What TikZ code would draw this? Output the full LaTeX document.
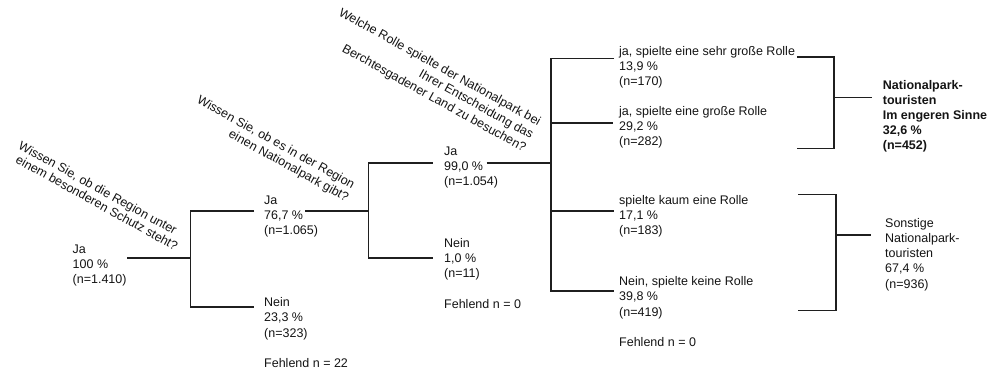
\documentclass[tikz,border=0pt]{standalone}
\usepackage{fontspec}
\setmainfont{Liberation Sans}
\begin{document}
\begin{tikzpicture}[x=1pt,y=-1pt,
  % multi-line nodes: the base anchor sits on the baseline of the last line
  txt/.style={inner sep=0pt, anchor=base west, align=left, text=black!92,
    font=\fontsize{12.5}{15.2}\selectfont},
  bold/.style={txt, font=\fontsize{12.5}{15}\selectfont\bfseries},
  quest/.style={inner sep=0pt, anchor=base east, rotate=-29, text=black!92,
    font=\fontsize{12.5}{15}\selectfont},
  tree/.style={draw=black!88, line width=1.3pt},
  stem/.style={draw=black!88, line width=2pt}]
\useasboundingbox (0,0) rectangle (998,373);

% --- question labels (rotated) ---
\node[quest] (q1a) at (174,235) {Wissen Sie, ob die Region unter};
\node[quest] (q1b) at (175,251) {einem besonderen Schutz steht?};
\node[quest] (q2a) at (352,189) {Wissen Sie, ob es in der Region};
\node[quest] (q2b) at (346,202) {einen Nationalpark gibt?};
\node[quest] (q3a) at (538,126) {Welche Rolle spielte der Nationalpark bei};
\node[quest] (q3b) at (530.7,139.1) {Ihrer Entscheidung das};
\node[quest] (q3c) at (523.4,152.2) {Berchtesgadener Land zu besuchen?};

% --- answer nodes (positioned by the baseline of their last line) ---
\node[txt] (a0) at (72.5,283.4) {Ja\\100 \%\\(n=1.410)};
\node[txt] (a1) at (264,234.4) {Ja\\76,7 \%\\(n=1.065)};
\node[txt] (n1) at (264,367.5) {Nein\\23,3 \%\\(n=323)\\[15.2pt]Fehlend n = 22};
\node[txt] (a2) at (444,185.4) {Ja\\99,0 \%\\(n=1.054)};
\node[txt] (n2) at (444,308.1) {Nein\\1,0 \%\\(n=11)\\[15.2pt]Fehlend n = 0};
\node[txt] (b1) at (619,85.4) {ja, spielte eine sehr große Rolle\\13,9 \%\\(n=170)};
\node[txt] (b2) at (619,145.4) {ja, spielte eine große Rolle\\29,2 \%\\(n=282)};
\node[txt] (b3) at (619,234.4) {spielte kaum eine Rolle\\17,1 \%\\(n=183)};
\node[txt] (b4) at (619,346.5) {Nein, spielte keine Rolle\\39,8 \%\\(n=419)\\[15.2pt]Fehlend n = 0};
\node[bold] (g1) at (882.7,149) {Nationalpark-\\touristen\\Im engeren Sinne\\32,6 \%\\(n=452)};
\node[txt] (g2) at (885,288.1) {Sonstige\\Nationalpark-\\touristen\\67,4 \%\\(n=936)};

% --- connector points ---
\coordinate (s0) at (127,258);   \coordinate (j0) at (190.5,258);
\coordinate (t1) at (254,211);   \coordinate (t2) at (254,307);
\coordinate (s1) at (305,211);   \coordinate (j1) at (368.3,211);
\coordinate (t3) at (432.7,163); \coordinate (t4) at (432.7,258);
\coordinate (s2) at (486.7,163); \coordinate (j2) at (551,163);
\coordinate (t5) at (614,58.5);  \coordinate (t6) at (613,123);
\coordinate (t7) at (614,211);   \coordinate (t8) at (614,291);
\coordinate (r1a) at (797,57);   \coordinate (r1b) at (797,148.3);
\coordinate (r1j) at (834,97.7); \coordinate (r1s) at (871.7,97.7);
\coordinate (r2a) at (798,194.3); \coordinate (r2b) at (798,310.5);
\coordinate (r2j) at (836,235);  \coordinate (r2s) at (871,235);

% --- tree lines ---
\draw[stem] (s0) -- (j0);
\draw[tree] (t1) -| (j0) |- (t2);
\draw[stem] (s1) -- (j1);
\draw[tree] (t3) -| (j1) |- (t4);
\draw[stem] (s2) -- (j2);
\draw[tree] (t5) -| (j2) |- (t8);
\draw[tree] (j2 |- t6) -- (t6);
\draw[tree] (j2 |- t7) -- (t7);

% --- grouping brackets ---
\draw[tree] (r1a) -| (r1j) |- (r1b);
\draw[tree] (r1j) -- (r1s);
\draw[tree] (r2a) -| (r2j) |- (r2b);
\draw[tree] (r2j) -- (r2s);
\end{tikzpicture}
\end{document}
